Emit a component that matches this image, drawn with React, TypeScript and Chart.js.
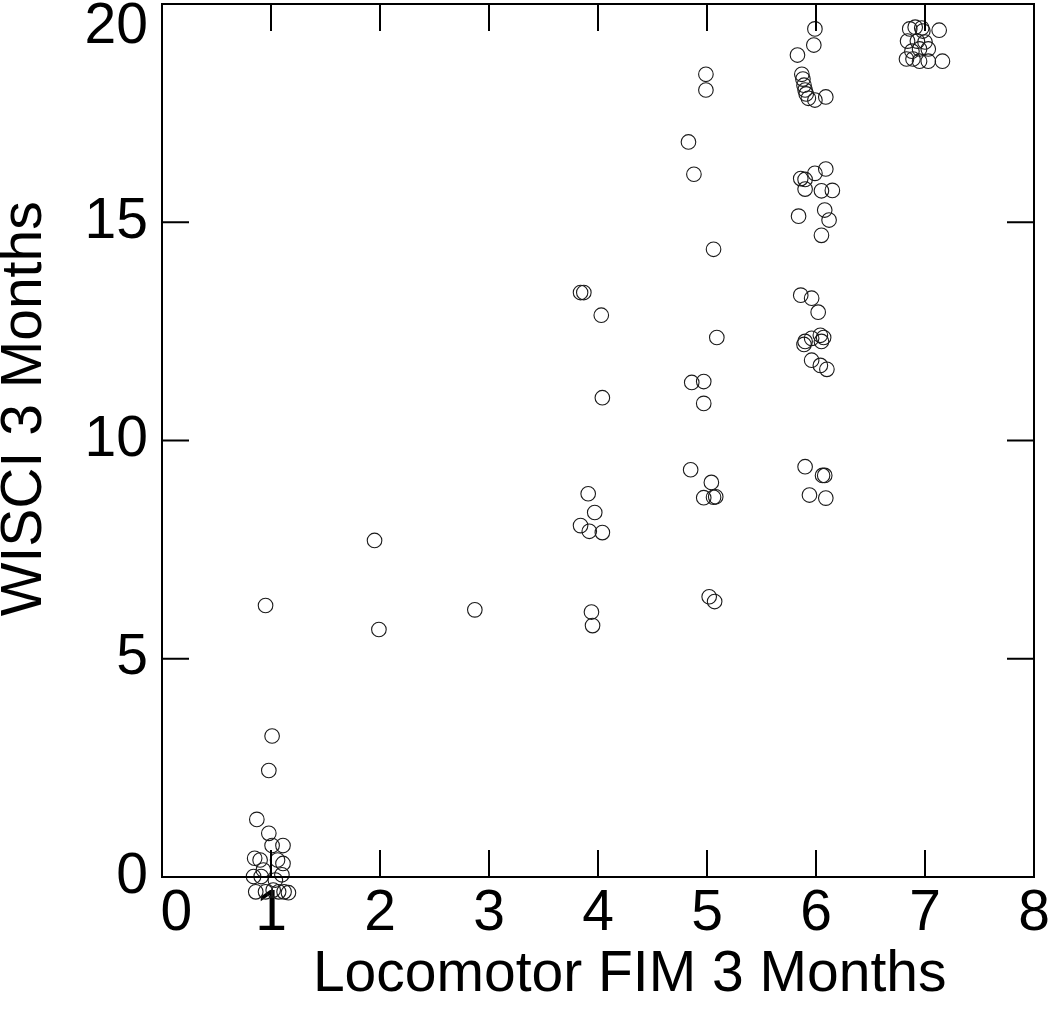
import React, { useEffect, useRef } from "react";
import { Chart, registerables } from "chart.js";

Chart.register(...registerables);

// ---- Data ----
const xTickValues = [0, 1, 2, 3, 4, 5, 6, 7, 8];
const xTickLabels = ["\u20020", "1", "2", "3", "4", "5", "6", "7", "8"];
const yTickValues = [0, 5, 10, 15, 20];
const yTickLabels = ["0", "5", "10", "15", "20"];

const xTitle = "Locomotor FIM 3 Months";
const yTitle = "WISCI 3 Months";

// Locomotor FIM at 3 months (jittered), one entry per subject
const locomotorFim = [
  // ~1
  0.95, 1.01, 0.98, 0.87, 0.98, 1.01, 1.11, 0.85, 0.9, 1.06, 1.11, 0.93, 0.84, 0.91, 1.1, 1.04,
  0.86, 0.95, 1.02, 1.07, 1.12, 1.16,
  // ~2
  1.95, 1.99,
  // ~3
  2.87,
  // ~4
  3.84, 3.87, 4.03, 4.04, 3.91, 3.97, 3.84, 3.92, 4.04, 3.94, 3.95,
  // ~5
  4.99, 4.99, 4.83, 4.88, 5.06, 5.09, 4.86, 4.97, 4.97, 4.85, 5.04, 4.97, 5.06, 5.08, 5.02, 5.07,
  // ~6
  5.99, 5.98, 5.83, 5.87, 5.88, 5.89, 5.9, 5.91, 5.93, 5.99, 6.09,
  5.86, 5.9, 5.99, 6.09, 5.9, 6.05, 6.15, 5.84, 6.08, 6.12, 6.05,
  5.86, 5.96, 6.02, 5.89, 5.9, 5.96, 6.04, 6.05, 6.07, 5.96, 6.04, 6.1,
  5.9, 6.06, 6.08, 5.94, 6.09,
  // ~7
  6.86, 6.91, 6.97, 6.98, 7.13, 6.84, 6.93, 7.0, 6.88, 6.95, 7.03, 6.83, 6.89, 6.95, 7.03, 7.16,
];

// WISCI at 3 months (jittered), same order
const wisci = [
  // ~1
  6.22, 3.23, 2.44, 1.32, 1.0, 0.72, 0.72, 0.43, 0.39, 0.39, 0.31, 0.16, 0.01, 0.01, 0.05, -0.07,
  -0.34, -0.34, -0.3, -0.34, -0.34, -0.36,
  // ~2
  7.71, 5.67,
  // ~3
  6.12,
  // ~4
  13.39, 13.39, 12.87, 10.98, 8.78, 8.35, 8.05, 7.92, 7.89, 6.07, 5.76,
  // ~5
  18.39, 18.03, 16.84, 16.1, 14.38, 12.36, 11.33, 11.35, 10.85, 9.33, 9.04, 8.69, 8.7, 8.71, 6.42, 6.31,
  // ~6
  19.43, 19.06, 18.83, 18.39, 18.28, 18.14, 18.03, 17.94, 17.84, 17.8, 17.87,
  16.0, 15.98, 16.12, 16.22, 15.76, 15.72, 15.73, 15.14, 15.28, 15.05, 14.7,
  13.33, 13.26, 12.94, 12.2, 12.27, 12.34, 12.41, 12.27, 12.36, 11.84, 11.72, 11.63,
  9.4, 9.2, 9.2, 8.75, 8.68,
  // ~7
  19.43, 19.47, 19.45, 19.38, 19.4, 19.15, 19.15, 19.13, 18.92, 18.97, 18.97, 18.74, 18.74, 18.69,
  18.69, 18.69,
];

const FONT = "'Liberation Sans', Arial, Helvetica, sans-serif";
const TICK_LEN = 27;

const framePlugin = {
  id: "frameTicks",
  afterDraw(chart: any) {
    const { ctx } = chart;
    const xs = chart.scales.x;
    const ys = chart.scales.y;
    const left = xs.getPixelForValue(xTickValues[0]);
    const right = xs.getPixelForValue(xTickValues[xTickValues.length - 1]);
    const bottom = ys.getPixelForValue(yTickValues[0]);
    const top = ys.getPixelForValue(yTickValues[yTickValues.length - 1]);
    ctx.save();
    ctx.strokeStyle = "#000";
    ctx.lineWidth = 2;
    ctx.strokeRect(left, top, right - left, bottom - top);
    ctx.beginPath();
    xTickValues.forEach((v) => {
      const px = xs.getPixelForValue(v);
      ctx.moveTo(px, bottom);
      ctx.lineTo(px, bottom - TICK_LEN);
      ctx.moveTo(px, top);
      ctx.lineTo(px, top + TICK_LEN);
    });
    yTickValues.forEach((v) => {
      const py = ys.getPixelForValue(v);
      ctx.moveTo(left, py);
      ctx.lineTo(left + TICK_LEN, py);
      ctx.moveTo(right, py);
      ctx.lineTo(right - TICK_LEN, py);
    });
    ctx.stroke();
    ctx.restore();
  },
};

export default function App() {
  const ref = useRef<HTMLCanvasElement | null>(null);

  useEffect(() => {
    if (!ref.current) return;
    Chart.defaults.font.family = FONT;
    Chart.defaults.color = "#000";
    const points = locomotorFim.map((x, i) => ({ x, y: wisci[i] }));
    const chart = new Chart(ref.current, {
      type: "scatter",
      data: {
        datasets: [
          {
            data: points,
            pointStyle: "circle",
            pointRadius: 7.3,
            // large hover radius only widens the in-area margin so marks just below 0 are still drawn
            pointHoverRadius: 22,
            pointBorderWidth: 1.1,
            pointBorderColor: "#1a1a1a",
            pointBackgroundColor: "rgba(0,0,0,0)",
            clip: false as any,
          },
        ],
      },
      options: {
        animation: false,
        responsive: false,
        devicePixelRatio: 1,
        events: [],
        layout: { autoPadding: false, padding: { top: 4, right: 16, left: 0, bottom: 0 } },
        plugins: { legend: { display: false }, tooltip: { enabled: false } },
        scales: {
          x: {
            type: "linear",
            min: 0,
            max: 8,
            grid: { display: false, drawTicks: false },
            border: { display: false },
            afterBuildTicks: (scale: any) => {
              scale.ticks = xTickValues.map((v) => ({ value: v }));
            },
            afterFit: (scale: any) => {
              scale.height = 139;
              scale.paddingLeft = 0;
              scale.paddingRight = 0;
            },
            ticks: {
              autoSkip: false,
              maxRotation: 0,
              padding: 9,
              font: { size: 57, lineHeight: 1 },
              color: "#000",
              callback: (value: any) => {
                const i = xTickValues.indexOf(Number(value));
                return i >= 0 ? xTickLabels[i] : "";
              },
            },
            title: {
              display: true,
              text: "    " + xTitle,
              color: "#000",
              font: { size: 57, lineHeight: 1 },
              padding: { top: 0, bottom: 12 },
            },
          },
          y: {
            type: "linear",
            min: 0,
            max: 20,
            grid: { display: false, drawTicks: false },
            border: { display: false },
            afterBuildTicks: (scale: any) => {
              scale.ticks = yTickValues.map((v) => ({ value: v }));
            },
            afterFit: (scale: any) => {
              scale.width = 162;
              scale.paddingTop = 0;
              scale.paddingBottom = 0;
            },
            ticks: {
              autoSkip: false,
              padding: 14,
              font: { size: 57, lineHeight: 0.8 },
              color: "#000",
              callback: (value: any) => {
                const v = Number(value);
                const i = yTickValues.indexOf(v);
                if (i < 0) return "";
                return v === yTickValues[yTickValues.length - 1] ? ["", yTickLabels[i]] : yTickLabels[i];
              },
            },
            title: {
              display: true,
              text: "    " + yTitle,
              color: "#000",
              font: { size: 57, lineHeight: 0.9 },
              padding: { top: 0, bottom: 0 },
            },
          },
        },
      },
      plugins: [framePlugin],
    });
    return () => chart.destroy();
  }, []);

  return (
    <div style={{ position: "fixed", left: 0, top: 0, width: 1050, height: 1016, background: "#fff" }}>
      <canvas ref={ref} width={1050} height={1016} style={{ width: 1050, height: 1016, display: "block" }} />
    </div>
  );
}
